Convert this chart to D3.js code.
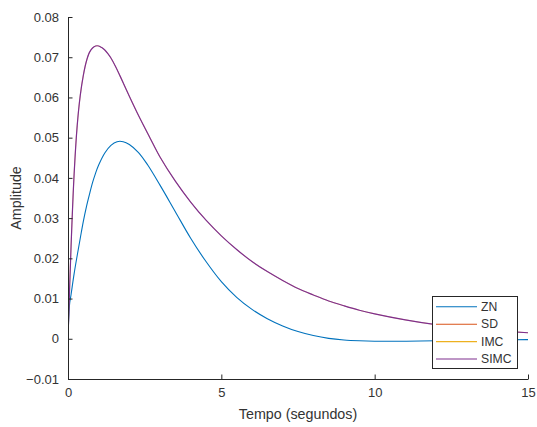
<!DOCTYPE html>
<html>
<head>
<meta charset="utf-8">
<script src="https://cdn.jsdelivr.net/npm/d3@7"></script>
<style>
  html, body { margin: 0; padding: 0; background: #ffffff; }
  svg { display: block; font-family: "Liberation Sans", Arial, sans-serif; }
</style>
</head>
<body>
<svg id="chart" width="537" height="427"></svg>
<script>
// ---- data ----
const seriesNames = ["ZN", "SD", "IMC", "SIMC"];
const seriesColors = ["#0072BD", "#D95319", "#EDB120", "#7E2F8E"];

const znTime =   [0, 0.05, 0.1, 0.2, 0.3, 0.4, 0.5, 0.6, 0.7, 0.8, 0.9, 1.0, 1.2, 1.4, 1.6, 1.8, 2.0, 2.3, 2.6, 3.0, 3.5, 4.0, 4.5, 5.0, 5.5, 6.0, 6.5, 7.0, 7.5, 8.0, 8.5, 9.0, 9.5, 10, 11, 12, 13, 14, 15];
const znValues = [0, 0.0085, 0.0110, 0.0162, 0.0207, 0.0250, 0.0292, 0.0328, 0.0359, 0.0388, 0.0412, 0.0432, 0.0462, 0.0481, 0.0490, 0.0490, 0.0483, 0.0463, 0.0432, 0.0382, 0.0316, 0.0250, 0.0192, 0.0142, 0.0103, 0.0073, 0.0050, 0.0032, 0.0018, 0.0008, 0.0001, -0.0003, -0.0005, -0.0006, -0.0006, -0.0005, -0.0004, -0.0003, -0.0002];

const simcTime =   [0, 0.1, 0.2, 0.3, 0.4, 0.5, 0.6, 0.7, 0.8, 0.9, 1.0, 1.1, 1.2, 1.3, 1.4, 1.55, 1.7, 2.0, 2.3, 2.67, 3.0, 3.5, 4.0, 4.5, 5.0, 5.5, 6.0, 6.5, 7.0, 7.5, 8.0, 8.5, 9.0, 9.5, 10, 11, 12, 13, 14, 15];
const simcValues = [0, 0.023, 0.041, 0.053, 0.0605, 0.0655, 0.0690, 0.0712, 0.0723, 0.0728, 0.0728, 0.0724, 0.0718, 0.0709, 0.0698, 0.0677, 0.0653, 0.0603, 0.0555, 0.0500, 0.0452, 0.0392, 0.0340, 0.0295, 0.0256, 0.0222, 0.0192, 0.0167, 0.0145, 0.0125, 0.0109, 0.0094, 0.0082, 0.0071, 0.0062, 0.0047, 0.0035, 0.0026, 0.0020, 0.0015];
const sdValues =   [0, 0.023, 0.041, 0.053, 0.0605, 0.0655, 0.0690, 0.0712, 0.0723, 0.0728, 0.0728, 0.0724, 0.0718, 0.0709, 0.0698, 0.0677, 0.0653, 0.0603, 0.0555, 0.0500, 0.0452, 0.0392, 0.0340, 0.0295, 0.0256, 0.0222, 0.0192, 0.0167, 0.0145, 0.0125, 0.0109, 0.0094, 0.0082, 0.0071, 0.0062, 0.0047, 0.0035, 0.0026, 0.0020, 0.0015];
const imcValues =  [0, 0.023, 0.041, 0.053, 0.0605, 0.0655, 0.0690, 0.0712, 0.0723, 0.0728, 0.0728, 0.0724, 0.0718, 0.0709, 0.0698, 0.0677, 0.0653, 0.0603, 0.0555, 0.0500, 0.0452, 0.0392, 0.0340, 0.0295, 0.0256, 0.0222, 0.0192, 0.0167, 0.0145, 0.0125, 0.0109, 0.0094, 0.0082, 0.0071, 0.0062, 0.0047, 0.0035, 0.0026, 0.0020, 0.0015];

const xTicks = [0, 5, 10, 15];
const yTicks = [-0.01, 0, 0.01, 0.02, 0.03, 0.04, 0.05, 0.06, 0.07, 0.08];
const xLabel = "Tempo (segundos)";
const yLabel = "Amplitude";

// ---- layout ----
const L = 68, R = 528, T = 17, B = 379;
const axisColor = "#262626";
const textColor = "#333333";

const svg = d3.select("#chart");
const x = d3.scaleLinear().domain([0, 15]).range([L, R]);
const y = d3.scaleLinear().domain([-0.01, 0.08]).range([B, T]);

svg.append("defs").append("clipPath").attr("id", "clip")
  .append("rect").attr("x", L).attr("y", T).attr("width", R - L).attr("height", B - T);

const series = [
  { name: "ZN", t: znTime, v: znValues, w: 1.1 },
  { name: "SD", t: simcTime, v: sdValues, w: 0.25 },
  { name: "IMC", t: simcTime, v: imcValues, w: 0.25 },
  { name: "SIMC", t: simcTime, v: simcValues, w: 1.2 }
];

const line = d3.line()
  .x(d => x(d[0]))
  .y(d => y(d[1]))
  .curve(d3.curveCatmullRom.alpha(0.5));

const plot = svg.append("g").attr("clip-path", "url(#clip)");
series.forEach((s, i) => {
  plot.append("path")
    .datum(s.t.map((t, k) => [t, s.v[k]]))
    .attr("d", line)
    .attr("fill", "none")
    .attr("stroke", seriesColors[i])
    .attr("stroke-width", s.w);
});

// ---- axes ----
const tickLen = 4.5;
const xAxis = d3.axisBottom(x).tickValues(xTicks).tickSizeInner(-tickLen).tickSizeOuter(0).tickPadding(9)
  .tickFormat(d3.format("d"));
const gx = svg.append("g").attr("transform", `translate(0,${B})`).call(xAxis);

const yAxis = d3.axisLeft(y).tickValues(yTicks).tickSizeInner(-tickLen).tickSizeOuter(0).tickPadding(9)
  .tickFormat(d => d === 0 ? "0" : d3.format(".2f")(d));
const gy = svg.append("g").attr("transform", `translate(${L},0)`).call(yAxis);

[gx, gy].forEach(g => {
  g.select(".domain").attr("stroke", axisColor).attr("stroke-width", 1);
  g.selectAll(".tick line").attr("stroke", axisColor).attr("stroke-width", 1);
  g.selectAll(".tick text").attr("fill", textColor)
    .style("font-size", "13px")
    .style("font-family", "'Liberation Sans', Arial, sans-serif");
});

// axis labels
svg.append("text")
  .attr("x", (L + R) / 2).attr("y", 419)
  .attr("text-anchor", "middle")
  .attr("fill", textColor)
  .style("font-size", "14.3px")
  .text(xLabel);

svg.append("text")
  .attr("transform", `translate(21,${(T + B) / 2}) rotate(-90)`)
  .attr("text-anchor", "middle")
  .attr("fill", textColor)
  .style("font-size", "14.3px")
  .text(yLabel);

// ---- legend ----
const lgX = 432, lgY = 296, lgW = 85, lgH = 72;
const lg = svg.append("g");
lg.append("rect")
  .attr("x", lgX + 0.5).attr("y", lgY + 0.5)
  .attr("width", lgW).attr("height", lgH)
  .attr("fill", "#ffffff")
  .attr("stroke", axisColor).attr("stroke-width", 1);
const rowY = [306.7, 324.2, 341.6, 359];
seriesNames.forEach((n, i) => {
  lg.append("line")
    .attr("x1", 436).attr("x2", 477)
    .attr("y1", rowY[i]).attr("y2", rowY[i])
    .attr("stroke", seriesColors[i]).attr("stroke-width", 1.1);
  lg.append("text")
    .attr("x", 481).attr("y", rowY[i])
    .attr("dy", "0.35em")
    .attr("fill", textColor)
    .style("font-size", "12.2px")
    .text(n);
});
</script>
</body>
</html>
